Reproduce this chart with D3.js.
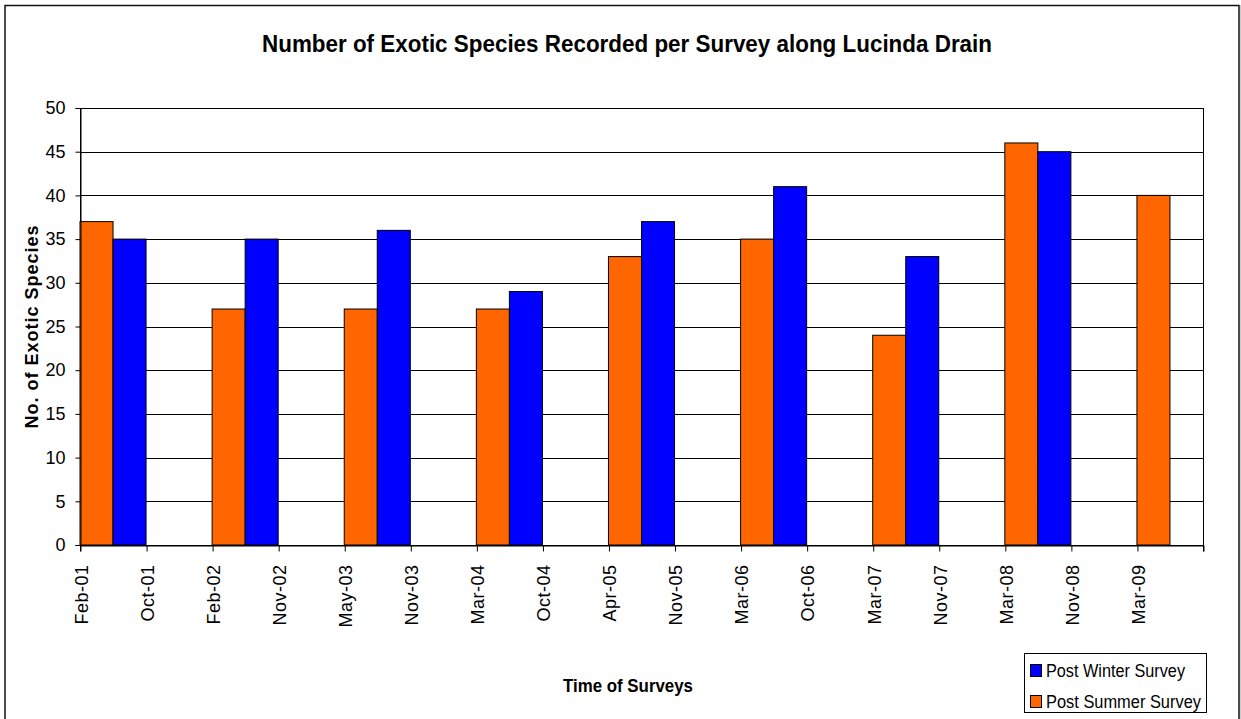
<!DOCTYPE html>
<html><head><meta charset="utf-8">
<script src="https://cdn.jsdelivr.net/npm/d3@7"></script>
<style>body{margin:0;background:#fff}svg{display:block}text{font-family:"Liberation Sans",Arial,sans-serif}</style>
</head><body>
<svg id="c" width="1241" height="719"></svg>
<script>
const tickLabels = ["Feb-01","Oct-01","Feb-02","Nov-02","May-03","Nov-03","Mar-04","Oct-04","Apr-05","Nov-05","Mar-06","Oct-06","Mar-07","Nov-07","Mar-08","Nov-08","Mar-09"];
const summerDates = ["Feb-01","Feb-02","May-03","Mar-04","Apr-05","Mar-06","Mar-07","Mar-08","Mar-09"];
const summerValues = [37,27,27,27,33,35,24,46,40];
const winterDates = ["Oct-01","Nov-02","Nov-03","Oct-04","Nov-05","Oct-06","Nov-07","Nov-08"];
const winterValues = [35,35,36,29,37,41,33,45];
const yTicks = [0,5,10,15,20,25,30,35,40,45,50];

const svg = d3.select("#c");
const L=80, R=1203, T=108, B=545;
// outer frame
svg.append("rect").attr("x",5).attr("y",5.5).attr("width",1234).attr("height",730)
  .attr("fill","none").attr("stroke","#111").attr("stroke-width",1.5);
svg.append("line").attr("x1",1240.5).attr("x2",1240.5).attr("y1",5).attr("y2",719).attr("stroke","#ccc");

const x = d3.scalePoint().domain([...tickLabels,"_end"]).range([L,R]);
const step = x.step();
const y = d3.scaleLinear().domain([0,50]).range([B,T]);

// gridlines
svg.append("g").selectAll("line").data(yTicks).join("line")
  .attr("x1",L).attr("x2",R).attr("y1",d=>Math.round(y(d))+0.5).attr("y2",d=>Math.round(y(d))+0.5)
  .attr("stroke","#000").attr("stroke-width",1);
svg.append("rect").attr("x",L+0.5).attr("y",T+0.5).attr("width",R-L).attr("height",B-T)
  .attr("fill","none").attr("stroke","#000").attr("stroke-width",1);

// bars
const w = step/2;
svg.append("g").selectAll("rect").data(summerDates.map((d,i)=>({d,v:summerValues[i]}))).join("rect")
  .attr("x",d=>x(d.d)).attr("width",w).attr("y",d=>y(d.v)).attr("height",d=>B-y(d.v))
  .attr("fill","#FF6600").attr("stroke","#000").attr("stroke-width",1);
svg.append("g").selectAll("rect").data(winterDates.map((d,i)=>({d,v:winterValues[i]}))).join("rect")
  .attr("x",d=>x(d.d)-w).attr("width",w).attr("y",d=>y(d.v)).attr("height",d=>B-y(d.v))
  .attr("fill","#0000FF").attr("stroke","#000").attr("stroke-width",1);

// y axis
const ya = svg.append("g").attr("transform",`translate(${L+0.5},0)`)
  .call(d3.axisLeft(y).tickValues(yTicks).tickSize(5).tickPadding(10));
ya.select(".domain").attr("stroke","#000");
ya.selectAll("text").attr("font-size",18).attr("fill","#000").style("font-family","Liberation Sans, Arial");
// x axis
const xa = svg.append("g").attr("transform",`translate(0,${B+0.5})`)
  .call(d3.axisBottom(x).tickValues([...tickLabels,"_end"]).tickSize(6).tickFormat(d=>d==="_end"?"":d));
xa.select(".domain").attr("stroke","#000");
xa.selectAll(".tick line").attr("transform","translate(0.5,0)");
xa.selectAll("text").attr("font-size",18).attr("fill","#000")
  .attr("letter-spacing","0.5px")
  .attr("transform","rotate(-90)").attr("text-anchor","end")
  .attr("x",-19).attr("y",1).attr("dy","0.35em").style("font-family","Liberation Sans, Arial");

// titles
svg.append("text").attr("x",627).attr("y",52).attr("text-anchor","middle")
  .attr("font-size",24).attr("font-weight","bold").attr("textLength",730).attr("lengthAdjust","spacingAndGlyphs")
  .text("Number of Exotic Species Recorded per Survey along Lucinda Drain");
svg.append("text").attr("transform",`translate(38,${(T+B)/2}) rotate(-90)`).attr("text-anchor","middle")
  .attr("font-size",18).attr("font-weight","bold").attr("letter-spacing","1px")
  .text("No. of Exotic Species");
svg.append("text").attr("x",628).attr("y",692).attr("text-anchor","middle")
  .attr("font-size",18).attr("font-weight","bold").attr("textLength",130).attr("lengthAdjust","spacingAndGlyphs")
  .text("Time of Surveys");

// legend
const lg = svg.append("g");
lg.append("rect").attr("x",1024.5).attr("y",653.5).attr("width",182).attr("height",59)
  .attr("fill","#fff").attr("stroke","#000");
const legendItems = [{t:"Post Winter Survey",c:"#0000FF"},{t:"Post Summer Survey",c:"#FF6600"}];
legendItems.forEach((it,i)=>{
  const yy = 664 + i*31;
  lg.append("rect").attr("x",1030.5).attr("y",yy+0.5).attr("width",11).attr("height",12)
    .attr("fill",it.c).attr("stroke","#000");
  lg.append("text").attr("x",1046).attr("y",yy+13).attr("font-size",18)
    .attr("textLength",i===0?139:155).attr("lengthAdjust","spacingAndGlyphs").text(it.t);
});
</script>
</body></html>
